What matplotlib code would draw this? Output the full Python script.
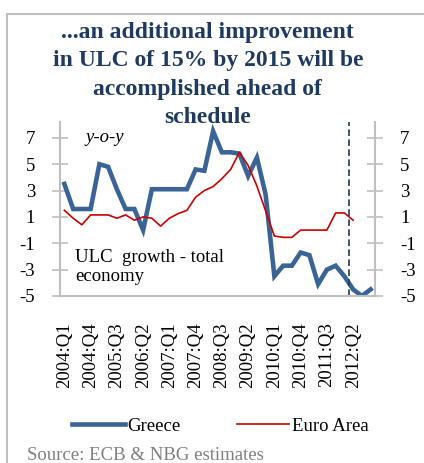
import matplotlib
matplotlib.use("Agg")
import matplotlib.pyplot as plt
from matplotlib.patches import Rectangle
from matplotlib.lines import Line2D

plt.rcParams['font.family'] = ['Liberation Serif', 'DejaVu Serif']

# quarterly ULC growth, y-o-y %
quarters = [f"{y}:Q{q}" for y in range(2004, 2013) for q in range(1, 5)]
greece = [3.5, 1.6, 1.6, 1.6, 5.0, 4.8, 3.1, 1.6, 1.6, 0.0,
          3.1, 3.1, 3.1, 3.1, 3.1, 4.6, 4.5, 7.5, 5.9, 5.9,
          5.8, 4.1, 5.5, 2.7, -3.5, -2.7, -2.7, -1.7, -1.9, -4.1,
          -3.0, -2.7, -3.5, -4.5, -5.0, -4.5]
euro_area = [1.5, 0.9, 0.4, 1.15, 1.15, 1.15, 0.9, 1.15, 0.75, 1.0,
             0.9, 0.3, 0.9, 1.25, 1.5, 2.5, 3.0, 3.3, 3.9, 4.6,
             5.9, 4.9, 3.35, 1.45, -0.45, -0.55, -0.55, 0.0, 0.0, 0.0,
             0.0, 1.3, 1.3, 0.75]
yticks = [7, 5, 3, 1, -1, -3, -5]
forecast_start = 32.5

W, H = 424, 463
fig = plt.figure(figsize=(W / 100, H / 100), dpi=100)

navy = '#1F3A60'
grey = '#BFBFBF'

# outer frame
fig.patches.append(Rectangle((7 / W, -0.1), 1.0, 1 - 14 / H + 0.1,
                             transform=fig.transFigure, fill=False,
                             edgecolor=grey, linewidth=1.5))

ax = fig.add_axes([60 / W, 1 - 296 / H, 315 / W, 174 / H])
x_g = range(len(greece))
x_e = range(len(euro_area))
ax.plot(x_g, greece, color='#3A6495', linewidth=3.3, solid_joinstyle='miter')
ax.plot(x_e, euro_area, color='#CC0000', linewidth=1.2)
ax.axvline(forecast_start, color=navy, linestyle=(0, (4, 2)), linewidth=1.2)

ax.set_xlim(-0.5, len(quarters) - 0.5)
ax.set_ylim(-5, 8.2)
ax.set_yticks(yticks)
ax.set_yticklabels([str(v) for v in yticks])
ax.set_xticks(range(0, len(quarters), 3))
ax.set_xticklabels(quarters[::3], rotation=90)

for s in ['left', 'right', 'bottom']:
    ax.spines[s].set_color(grey)
    ax.spines[s].set_linewidth(1.5)
ax.spines['top'].set_visible(False)
ax.tick_params(axis='y', direction='inout', length=12, width=1.2, color=grey,
               left=True, right=True, labelleft=True, labelright=True,
               labelsize=13.5)
ax.yaxis.set_tick_params(pad=12)
ax.tick_params(axis='x', length=0, pad=19, labelsize=13.5)
ax.set_facecolor('none')

ax.text(2.4, 7.0, "y-o-y", fontsize=13.5, style='italic', va='center')
ax.text(1.2, -1.45, "ULC  growth - total\neconomy", fontsize=13.5, va='top',
        linespacing=1.15)

# title drawn last so it sits over the top of the plot area
fig.text(0.49, 1 - 22 / H,
         "...an additional improvement\nin ULC of 15% by 2015 will be\naccomplished ahead of\nschedule",
         ha='center', va='top', fontsize=17, fontweight='bold', color=navy,
         linespacing=1.46)

handles = [Line2D([], [], color='#3A6495', linewidth=3.3),
           Line2D([], [], color='#CC0000', linewidth=1.2)]
fig.legend(handles, ['Greece', 'Euro Area'], loc='center',
           bbox_to_anchor=(0.52, 1 - 426 / H), ncol=2, frameon=False,
           fontsize=13.5, handlelength=2.8, handletextpad=0.15,
           columnspacing=3.0)

fig.text(27 / W, 3 / H, "Source: ECB & NBG estimates", fontsize=13.5,
         color='#7F7F7F', va='baseline', ha='left')

fig.savefig("out.png", dpi=100)
